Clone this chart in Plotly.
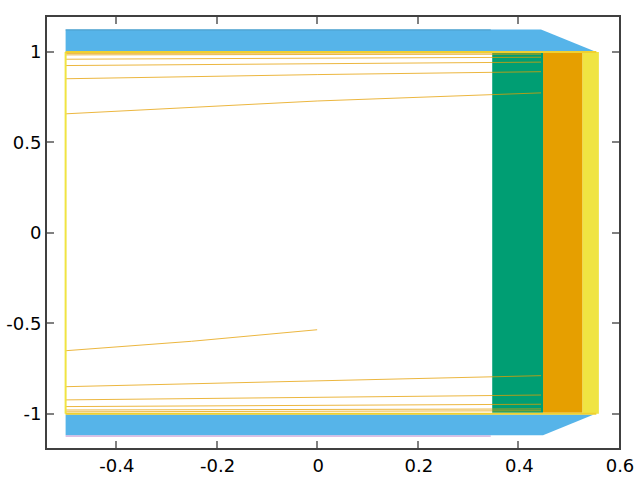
import plotly.graph_objects as go

# band outlines
yellow_x = [0.527, 0.56, 0.56, 0.527]
yellow_y = [1.0, 1.0, -1.0, -1.0]
orange_x = [0.449, 0.527, 0.527, 0.449]
orange_y = [0.995, 0.995, -0.995, -0.995]
green_x = [0.348, 0.449, 0.449, 0.348]
green_y = [0.995, 0.995, -0.995, -0.995]
blue_top_x = [-0.5, 0.445, 0.555, -0.5]
blue_top_y = [1.125, 1.125, 1.0, 1.0]
blue_bot_x = [-0.5, 0.449, 0.55, -0.5]
blue_bot_y = [-1.12, -1.12, -1.005, -1.005]

# thin contour lines
line_x = [-0.5, 0.0, 0.445]
lines_y = [
    [0.658, 0.729, 0.774],
    [0.852, 0.875, 0.891],
    [0.925, 0.937, 0.944],
    [0.96, 0.966, 0.971],
    [0.984, 0.986, 0.988],
    [0.992, 0.993, 0.995],
    [-0.851, -0.82, -0.79],
    [-0.924, -0.91, -0.897],
    [-0.961, -0.955, -0.948],
    [-0.98, -0.977, -0.974],
    [-0.99, -0.987, -0.984],
]
short_x = [-0.5, -0.25, 0.0]
short_y = [-0.652, -0.6, -0.536]

edge_x = [-0.5, -0.5]
edge_y = [1.0, -1.0]
rim_x = [-0.5, 0.555]
rim_top_y = [1.0, 1.0]
rim_bot_y = [-1.0, -1.0]
purple_x = [-0.5, 0.345]
purple_y = [-1.124, -1.124]
teal_x = [-0.5, 0.345]
teal_y = [1.122, 1.122]

x_ticks = [-0.4, -0.2, 0, 0.2, 0.4, 0.6]
x_labels = ["-0.4", "-0.2", "0", "0.2", "0.4", "0.6"]
y_ticks = [-1, -0.5, 0, 0.5, 1]
y_labels = ["-1", "-0.5", "0", "0.5", "1"]

fig = go.Figure()


def band(x, y, color):
    fig.add_trace(go.Scatter(x=x, y=y, mode="lines", fill="toself", fillcolor=color,
                             line=dict(width=0), hoverinfo="skip"))


def thin(x, y, color, width, opacity=1.0):
    fig.add_trace(go.Scatter(x=x, y=y, mode="lines", opacity=opacity,
                             line=dict(color=color, width=width), hoverinfo="skip"))


band(yellow_x, yellow_y, "#F0E442")
band(orange_x, orange_y, "#E69F00")
band(green_x, green_y, "#009E73")
band(blue_top_x, blue_top_y, "#56B4E9")
band(blue_bot_x, blue_bot_y, "#56B4E9")

thin(teal_x, teal_y, "#4C9CC8", 1)
thin(purple_x, purple_y, "#BF8FCF", 1)
for vals in lines_y:
    thin(line_x, vals, "#E69F00", 1, 0.75)
thin(short_x, short_y, "#E69F00", 1, 0.75)
thin(edge_x, edge_y, "#F0E442", 2)
thin(rim_x, rim_top_y, "#F0D030", 2)
thin(rim_x, rim_bot_y, "#F0D030", 2)

fig.update_layout(
    width=640, height=480,
    margin=dict(l=47, r=21, t=17, b=32),
    plot_bgcolor="white", paper_bgcolor="white",
    showlegend=False,
    font=dict(family="DejaVu Sans", size=18, color="black"),
)
fig.update_xaxes(range=[-0.537, 0.6], tickvals=x_ticks, ticktext=x_labels, automargin=False,
                 ticklabelshift=1,
                 showgrid=False, zeroline=False, showline=True, linecolor="#404040", linewidth=2,
                 mirror="ticks", ticks="inside", ticklen=7, tickwidth=2, tickcolor="#808080")
fig.update_yaxes(range=[-1.19, 1.1935], tickvals=y_ticks, ticktext=y_labels, automargin=False,
                 showgrid=False, zeroline=False, showline=True, linecolor="#404040", linewidth=2,
                 mirror="ticks", ticks="inside", ticklen=7, tickwidth=2, tickcolor="#808080")

# drop the page's 8px body margin, otherwise the -0.5 label gets clipped
fig.write_html("out.html", config={"displayModeBar": False},
               post_script="document.body.style.margin = '0';")
